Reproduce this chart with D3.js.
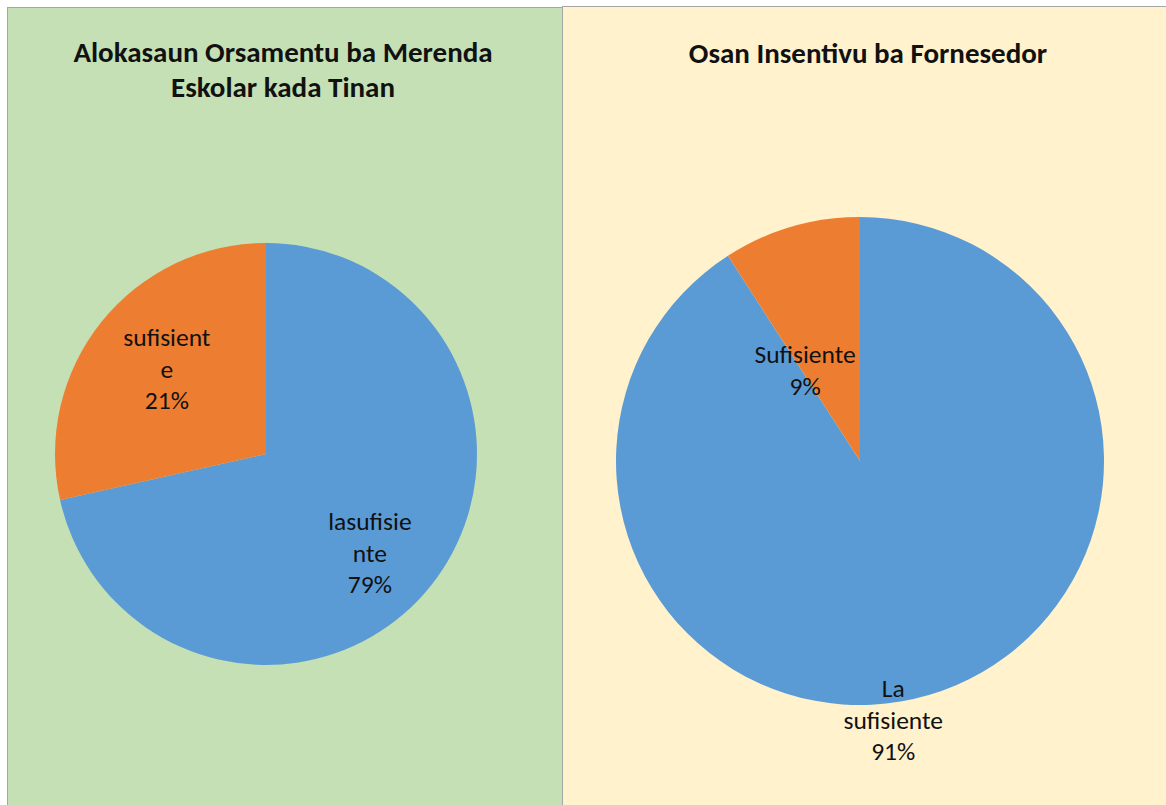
<!DOCTYPE html>
<html>
<head>
<meta charset="utf-8">
<script src="https://cdn.jsdelivr.net/npm/d3@7"></script>
<style>
  html, body { margin: 0; padding: 0; background: #fff; }
  svg { display: block; }
  text { font-family: Carlito, Lato, "Open Sans", sans-serif; fill: #111; }
</style>
</head>
<body>
<div id="chart"></div>
<script>
// chart data
var leftTitle = ['Alokasaun Orsamentu ba Merenda', 'Eskolar kada Tinan'];
var leftCategories = ['lasufisiente', 'sufisiente'];
var leftValues = [71.5, 28.5];
var leftLabels = [['lasufisie', 'nte', '79%'], ['sufisient', 'e', '21%']];

var rightTitle = ['Osan Insentivu ba Fornesedor'];
var rightCategories = ['La sufisiente', 'Sufisiente'];
var rightValues = [90.9, 9.1];
var rightLabels = [['La', 'sufisiente', '91%'], ['Sufisiente', '9%']];

var colors = ['#5b9bd5', '#ed7d31'];

var pfPies = {

  config: {
    width: 1166,
    height: 805,
    lineHeight: 31.5
  },

  display: function() {
    this.svg = d3.select('#chart').append('svg')
                 .attr('width', this.config.width)
                 .attr('height', this.config.height);

    this.drawPanel({
      x: 7, y: 7, w: 555, h: 820, fill: '#c5e0b4',
      title: leftTitle, titleX: 283, titleY: 52,
      cx: 266, cy: 454, r: 211,
      values: leftValues, labels: leftLabels,
      // label anchors as [angle in degrees, fraction of radius]
      labelPos: [[133.6, 0.68], [310.7, 0.62]]
    });

    this.drawPanel({
      x: 562, y: 6, w: 620, h: 820, fill: '#fff2cc',
      title: rightTitle, titleX: 868, titleY: 53,
      cx: 860, cy: 461, r: 244,
      values: rightValues, labels: rightLabels,
      labelPos: [[172.7, 1.07], [328.9, 0.436]]
    });
  },

  drawPanel: function(p) {
    var lh = this.config.lineHeight;

    this.svg.append('rect')
            .attr('x', p.x + 0.5).attr('y', p.y + 0.5)
            .attr('width', p.w).attr('height', p.h)
            .attr('fill', p.fill)
            .attr('stroke', '#a6a6a6')
            .attr('stroke-width', 1);

    this.svg.append('text')
            .attr('x', p.titleX)
            .attr('text-anchor', 'middle')
            .style('font-size', '29px')
            .style('font-weight', 'bold')
            .selectAll('tspan')
            .data(p.title)
            .enter()
            .append('tspan')
            .attr('x', p.titleX)
            .attr('y', function(d, i) { return p.titleY + i * 35; })
            .attr('dy', '0.35em')
            .text(function(d) { return d; });

    var pie = d3.pie()
                .value(function(d) { return d; })
                .sort(null);

    var arc = d3.arc()
                .innerRadius(0)
                .outerRadius(p.r);

    var g = this.svg.append('g')
                    .attr('transform', 'translate(' + p.cx + ',' + p.cy + ')');

    g.selectAll('path')
     .data(pie(p.values))
     .enter()
     .append('path')
     .attr('d', arc)
     .attr('fill', function(d) { return colors[d.index]; });

    p.labels.forEach(function(lines, i) {
      var a = p.labelPos[i][0] * Math.PI / 180,
          rr = p.labelPos[i][1] * p.r,
          lx = rr * Math.sin(a),
          ly = -rr * Math.cos(a),
          top = ly - (lines.length - 1) * lh / 2;

      g.append('text')
       .attr('text-anchor', 'middle')
       .style('font-size', '25.5px')
       .selectAll('tspan')
       .data(lines)
       .enter()
       .append('tspan')
       .attr('x', lx)
       .attr('y', function(d, j) { return top + j * lh; })
       .attr('dy', '0.35em')
       .text(function(d) { return d; });
    });
  }

};

pfPies.display();
</script>
</body>
</html>
